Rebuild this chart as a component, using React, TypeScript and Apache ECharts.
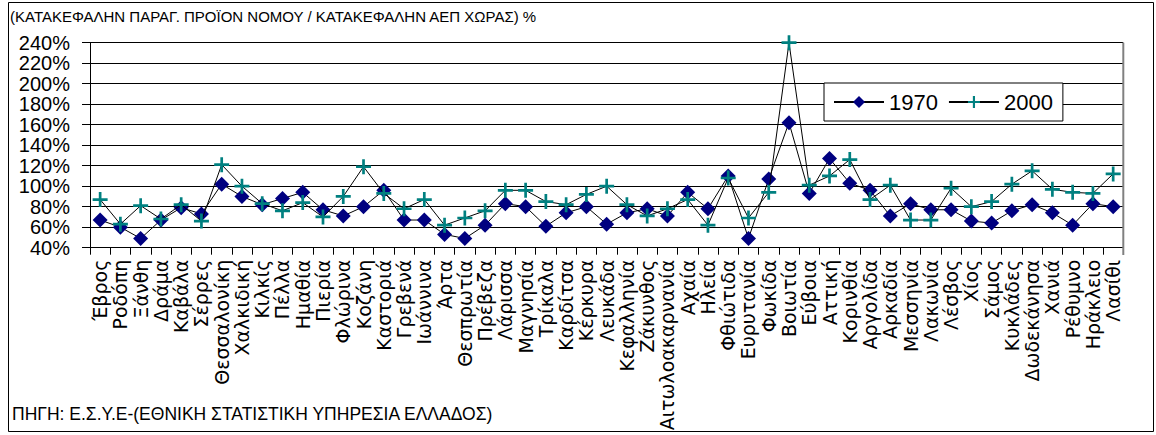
import React, { useEffect, useRef } from "react";
import * as echarts from "echarts";

const categories = [
  "Έβρος", "Ροδόπη", "Ξάνθη", "Δράμα", "Καβάλα", "Σέρρες", "Θεσσαλονίκη", "Χαλκιδική", "Κιλκίς", "Πέλλα",
  "Ημαθία", "Πιερία", "Φλώρινα", "Κοζάνη", "Καστοριά", "Γρεβενά", "Ιωάννινα", "Άρτα", "Θεσπρωτία", "Πρέβεζα",
  "Λάρισσα", "Μαγνησία", "Τρίκαλα", "Καρδίτσα", "Κέρκυρα", "Λευκάδα", "Κεφαλληνία", "Ζάκυνθος", "Αιτωλοακαρνανία", "Αχαία",
  "Ηλεία", "Φθιώτιδα", "Ευρυτανία", "Φωκίδα", "Βοιωτία", "Εύβοια", "Αττική", "Κορινθία", "Αργολίδα", "Αρκαδία",
  "Μεσσηνία", "Λακωνία", "Λέσβος", "Χίος", "Σάμος", "Κυκλάδες", "Δωδεκάνησα", "Χανιά", "Ρέθυμνο", "Ηράκλειο",
  "Λασίθι",
];

const values1970 = [
  67, 60, 49, 67, 79, 73, 102, 90, 82, 88,
  94, 77, 71, 80, 96, 67, 67, 53, 49, 62,
  83, 80, 61, 74, 80, 63, 74, 78, 71, 94,
  78, 110, 49, 107, 162, 93, 127, 103, 96, 71,
  83, 77, 77, 66, 64, 76, 82, 74, 62, 83,
  80,
];

const values2000 = [
  87, 63, 81, 68, 82, 66, 121, 100, 83, 76,
  84, 70, 90, 119, 93, 78, 87, 62, 69, 76,
  96, 96, 85, 82, 92, 100, 82, 71, 78, 87,
  62, 108, 69, 94, 240, 101, 110, 126, 87, 101,
  67, 67, 98, 80, 85, 102, 115, 97, 94, 93,
  112,
];

const seriesNames = ["1970", "2000"];
const titleText = "(ΚΑΤΑΚΕΦΑΛΗΝ ΠΑΡΑΓ. ΠΡΟΪΟΝ ΝΟΜΟΥ / ΚΑΤΑΚΕΦΑΛΗΝ ΑΕΠ ΧΩΡΑΣ) %";
const sourceText = "ΠΗΓΗ: Ε.Σ.Υ.Ε-(ΕΘΝΙΚΗ ΣΤΑΤΙΣΤΙΚΗ ΥΠΗΡΕΣΙΑ ΕΛΛΑΔΟΣ)";

const FONT = '"Liberation Sans", Arial, sans-serif';
const WIDE = '"DejaVu Sans", "Liberation Sans", sans-serif';
const PLUS = "path://M4.1,0 H5.9 V4.1 H10 V5.9 H5.9 V10 H4.1 V5.9 H0 V4.1 H4.1 Z";

export default function App() {
  const ref = useRef<HTMLDivElement>(null);

  useEffect(() => {
    if (!ref.current) return;
    const chart = echarts.init(ref.current, null, { renderer: "svg" });
    chart.setOption({
      animation: false,
      backgroundColor: "#ffffff",
      textStyle: { fontFamily: FONT },
      grid: { left: 90, top: 42.7, right: 32.7, bottom: 187.3, containLabel: false },
      legend: {
        data: seriesNames,
        left: 824,
        top: 83,
        orient: "horizontal",
        padding: [8, 10, 8, 9],
        itemGap: 10,
        itemWidth: 50,
        itemHeight: 15,
        borderColor: "#000",
        borderWidth: 1,
        backgroundColor: "#fff",
        textStyle: { fontFamily: FONT, fontSize: 22, color: "#000" },
      },
      xAxis: {
        type: "category",
        data: categories,
        boundaryGap: true,
        axisLine: { show: true, lineStyle: { color: "#000", width: 1 } },
        axisTick: { show: true, alignWithLabel: false, length: 7, interval: 0, lineStyle: { color: "#000" } },
        axisLabel: {
          interval: 0,
          rotate: 90,
          margin: 12,
          fontSize: 19,
          fontFamily: WIDE,
          color: "#000",
          hideOverlap: false,
        },
        splitLine: { show: false },
      },
      yAxis: {
        type: "value",
        min: 40,
        max: 240,
        interval: 20,
        axisLine: { show: true, lineStyle: { color: "#000", width: 1 } },
        axisTick: { show: true, length: 8, lineStyle: { color: "#000" } },
        axisLabel: {
          formatter: "{value}%",
          fontSize: 20,
          lineHeight: 18,
          fontFamily: FONT,
          color: "#000",
          margin: 20,
          showMinLabel: true,
          showMaxLabel: true,
          hideOverlap: false,
        },
        splitLine: { show: true, lineStyle: { color: "#000", width: 1 } },
      },
      series: [
        {
          name: seriesNames[0],
          type: "line",
          data: values1970,
          symbol: "diamond",
          symbolSize: 15,
          itemStyle: { color: "#000080" },
          lineStyle: { color: "#000", width: 1 },
          z: 3,
        },
        {
          name: seriesNames[1],
          type: "line",
          data: values2000,
          symbol: PLUS,
          symbolSize: 15,
          itemStyle: { color: "#008080" },
          lineStyle: { color: "#000", width: 1 },
          z: 4,
        },
      ],
      graphic: [
        {
          type: "rect",
          shape: { x: 8.5, y: 2.5, width: 1145, height: 429 },
          style: { fill: "none", stroke: "#000", lineWidth: 1 },
          silent: true,
          z: 0,
        },
        {
          type: "line",
          shape: { x1: 1123.3, y1: 42.7, x2: 1123.3, y2: 255 },
          style: { stroke: "#808080", lineWidth: 2 },
          silent: true,
          z: 5,
        },
        {
          type: "text",
          x: 10,
          y: 9,
          style: { text: titleText, font: `15px ${FONT}`, fill: "#000" },
          silent: true,
        },
        {
          type: "text",
          x: 12,
          y: 405,
          style: { text: sourceText, font: `17.5px ${FONT}`, fill: "#000" },
          silent: true,
        },
      ],
    });
    return () => chart.dispose();
  }, []);

  return (
    <div
      ref={ref}
      style={{ position: "absolute", left: 0, top: 0, width: 1156, height: 435 }}
    />
  );
}
